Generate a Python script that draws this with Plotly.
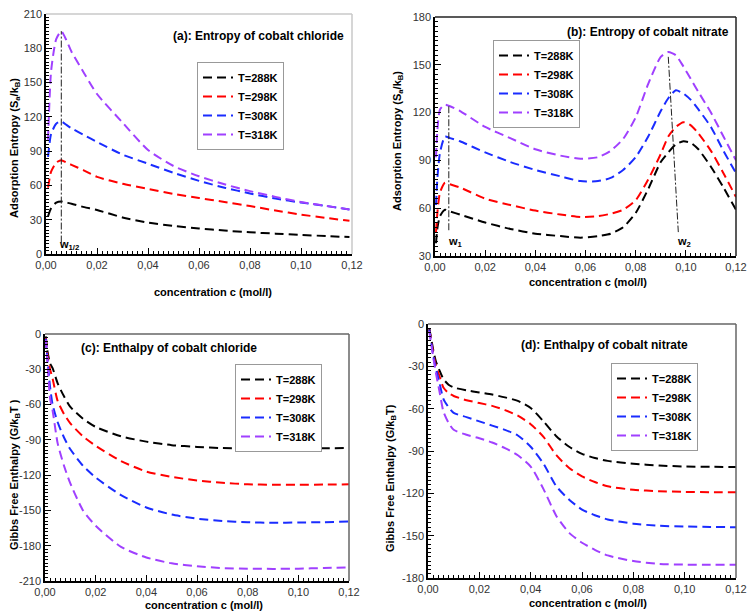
import plotly.graph_objects as go

# The page body adds an 8 px margin, so the figure is sized to fit inside the
# 756x614 window; positions below are given in window pixels.
WIN_W, WIN_H, OFF = 756, 614, 8
W, H = WIN_W - 2 * OFF, WIN_H - OFF


def fx(px):
    return (px - OFF) / W


def fy(py):
    return 1 - (py - OFF) / H


series_names = ["T=288K", "T=298K", "T=308K", "T=318K"]
series_colors = ["#000000", "#ff0000", "#1a2cff", "#a040ff"]

# ---------- (a) Entropy of cobalt chloride ----------
a_x = [0.0008, 0.002, 0.004, 0.006, 0.008, 0.01, 0.015, 0.02, 0.03, 0.04, 0.05,
       0.06, 0.07, 0.08, 0.09, 0.10, 0.11, 0.119]
a_288 = [33, 40, 45, 46, 45, 44, 41, 38.5, 32, 27.5, 24.5, 22.4, 20.5, 19, 17.8, 16.7, 15.7, 14.8]
a_298 = [58, 72, 80, 82, 80, 78, 73, 67.5, 61.5, 57, 52.5, 49, 45.5, 42, 38, 34.5, 31.5, 29]
a_308 = [85, 105, 114, 116, 113, 110, 104, 98, 87, 79, 71, 64, 58, 53, 48.5, 45, 42, 39]
a_318 = [100, 160, 188, 195, 187, 177, 158, 140, 115, 91, 77, 68, 61, 55, 50, 45.5, 42, 39]
a_w_x = [0.006, 0.006]
a_w_y = [10, 195]

# ---------- (b) Entropy of cobalt nitrate ----------
b_x = [0.0004, 0.001, 0.002, 0.004, 0.006, 0.01, 0.02, 0.03, 0.04, 0.05, 0.058,
       0.065, 0.07, 0.075, 0.08, 0.085, 0.09, 0.093, 0.096, 0.099, 0.102, 0.105,
       0.11, 0.115, 0.12]
b_288 = [38, 48, 55, 59, 58, 56, 51, 47, 44, 42.5, 41.5, 42.5, 44, 48, 57, 72, 89, 95,
         100, 102, 101, 97, 86, 73, 59]
b_298 = [45, 58, 70, 76, 75, 73, 66, 62, 58.5, 56, 54.5, 55, 56.5, 59, 65, 78, 94, 105,
         111, 114, 112, 107, 96, 82, 67]
b_308 = [62, 80, 95, 105, 104, 102, 95, 89, 84, 80, 77, 77, 79, 84, 92, 105, 121, 129,
         134, 132, 128, 122, 111, 96, 82]
b_318 = [92, 110, 122, 125, 124, 121, 111, 104, 97, 93, 91, 92, 96, 103.5, 117, 138, 155,
         158, 156, 149, 141, 133, 120, 105, 90]
b_w1_x = [0.0055, 0.0055]
b_w1_y = [124, 45]
b_w2_x = [0.093, 0.097]
b_w2_y = [155, 45]

# ---------- (c) Enthalpy of cobalt chloride ----------
c_x = [0.0003, 0.001, 0.002, 0.003, 0.005, 0.0075, 0.01, 0.015, 0.02, 0.03, 0.04,
       0.05, 0.06, 0.07, 0.08, 0.09, 0.10, 0.11, 0.12]
c_288 = [-2, -15, -25, -29, -42, -53, -62, -72, -79, -87, -91.5, -94.5, -96, -97,
         -97.3, -97.3, -97.2, -97.1, -97]
c_298 = [-3, -18, -30, -38, -57, -68, -76, -87, -95, -108, -117, -121.5, -124.5,
         -126.5, -127.8, -128.2, -128.2, -128, -127.8]
c_308 = [-4, -22, -45, -60, -75, -88, -98, -112, -122, -137, -147.5, -153.5, -157,
         -159, -160, -160.5, -160.3, -160, -159.5]
c_318 = [-5, -25, -55, -65, -93, -112, -127, -150, -163, -181, -190, -195, -197.5,
         -199, -199.5, -199.7, -199.5, -199, -198.5]

# ---------- (d) Enthalpy of cobalt nitrate ----------
d_x = [0.0005, 0.001, 0.002, 0.003, 0.0045, 0.006, 0.008, 0.01, 0.015, 0.02, 0.025,
       0.03, 0.035, 0.04, 0.045, 0.05, 0.055, 0.06, 0.065, 0.07, 0.08, 0.09, 0.10,
       0.11, 0.12]
d_288 = [-3, -8, -18, -26, -33, -39, -43, -45, -47, -48.5, -50, -52, -54.5, -59.5,
         -69, -79.5, -87, -92, -95, -97, -99, -100.3, -101, -101.2, -101.3]
d_298 = [-4, -9, -20, -29, -37, -45, -49, -51, -54, -56, -58, -61, -65, -71, -80,
         -93, -102, -108, -112, -115, -117.5, -118.5, -119, -119.2, -119.3]
d_308 = [-4, -10, -22, -31, -42, -53, -59, -63, -66, -69, -72, -75, -79, -87, -99,
         -115, -124.5, -131.5, -135.5, -138.5, -141.5, -143, -143.5, -143.8, -144]
d_318 = [-5, -11, -23, -34, -48, -62, -70, -75, -78.5, -81, -84, -88, -93, -101,
         -117, -136, -148, -155, -160, -164, -168, -170, -170.5, -170.6, -170.6]

# ---------- ticks ----------
x_ticks = [0, 0.02, 0.04, 0.06, 0.08, 0.10, 0.12]
x_tick_labels = ["0,00", "0,02", "0,04", "0,06", "0,08", "0,10", "0,12"]
a_y_ticks = [0, 30, 60, 90, 120, 150, 180, 210]
b_y_ticks = [30, 60, 90, 120, 150, 180]
c_y_ticks = [-210, -180, -150, -120, -90, -60, -30, 0]
d_y_ticks = [-180, -150, -120, -90, -60, -30, 0]

FONT = "Liberation Sans, Arial, sans-serif"
DASH = "9px,5px"

fig = go.Figure()

panels = [
    ("x", "y", "legend", a_x, [a_288, a_298, a_308, a_318]),
    ("x2", "y2", "legend2", b_x, [b_288, b_298, b_308, b_318]),
    ("x3", "y3", "legend3", c_x, [c_288, c_298, c_308, c_318]),
    ("x4", "y4", "legend4", d_x, [d_288, d_298, d_308, d_318]),
]
for xa, ya, lg, xs, ys_list in panels:
    for name, col, ys in zip(series_names, series_colors, ys_list):
        fig.add_trace(go.Scatter(
            x=xs, y=ys, mode="lines", name=name, xaxis=xa, yaxis=ya, legend=lg,
            line=dict(color=col, width=2, dash=DASH, shape="spline", smoothing=0.6),
        ))

# dash-dot guide lines
for xs, ys, xa, ya in [(a_w_x, a_w_y, "x", "y"), (b_w1_x, b_w1_y, "x2", "y2"),
                       (b_w2_x, b_w2_y, "x2", "y2")]:
    fig.add_trace(go.Scatter(x=xs, y=ys, mode="lines", xaxis=xa, yaxis=ya,
                             showlegend=False, hoverinfo="skip",
                             line=dict(color="#222", width=1, dash="7px,2px,2px,2px")))

# plot areas in window pixels: (left, right, top, bottom)
areas = {
    "a": (46, 352, 14, 254),
    "b": (435, 736, 17, 256),
    "c": (45, 349, 334, 581),
    "d": (428, 736, 324, 578),
}
domains = {k: dict(x=[fx(l), fx(r)], y=[fy(b), fy(t)]) for k, (l, r, t, b) in areas.items()}

tickfont = dict(family=FONT, size=11, color="#333")


def xaxis_cfg(dom, anchor):
    return dict(domain=dom, anchor=anchor, range=[0, 0.12], tickvals=x_ticks,
                ticktext=x_tick_labels, ticks="inside", ticklen=6, tickcolor="#000",
                showline=True, linecolor="#000", linewidth=1.5, mirror=False,
                showgrid=False, zeroline=False, tickfont=tickfont,
                ticklabeloverflow="allow", automargin=False,
                minor=dict(ticks="inside", ticklen=3, dtick=0.002, tickcolor="#000",
                           showgrid=False))


def yaxis_cfg(dom, anchor, rng, tv):
    return dict(domain=dom, anchor=anchor, range=rng, tickvals=tv,
                ticktext=[str(v) for v in tv], ticks="inside", ticklen=6,
                tickcolor="#000", showline=True, linecolor="#000", linewidth=1.5,
                mirror=False, showgrid=False, zeroline=False, tickfont=tickfont,
                ticklabeloverflow="allow", automargin=False,
                minor=dict(ticks="inside", ticklen=3, dtick=3, tickcolor="#000",
                           showgrid=False))


legend_common = dict(bgcolor="white", bordercolor="#999", borderwidth=1,
                     font=dict(family=FONT, size=11, color="#000", weight="bold"),
                     itemwidth=30, xanchor="left", yanchor="top",
                     itemclick=False, itemdoubleclick=False)

fig.update_layout(
    width=W, height=H,
    margin=dict(l=0, r=0, t=0, b=0, pad=0, autoexpand=False),
    paper_bgcolor="white", plot_bgcolor="white",
    font=dict(family=FONT, size=11, color="#000"),
    xaxis=xaxis_cfg(domains["a"]["x"], "y"),
    yaxis=yaxis_cfg(domains["a"]["y"], "x", [0, 210], a_y_ticks),
    xaxis2=xaxis_cfg(domains["b"]["x"], "y2"),
    yaxis2=yaxis_cfg(domains["b"]["y"], "x2", [30, 180], b_y_ticks),
    xaxis3=xaxis_cfg(domains["c"]["x"], "y3"),
    yaxis3=yaxis_cfg(domains["c"]["y"], "x3", [-210, 0], c_y_ticks),
    xaxis4=xaxis_cfg(domains["d"]["x"], "y4"),
    yaxis4=yaxis_cfg(domains["d"]["y"], "x4", [-180, 0], d_y_ticks),
    legend=dict(legend_common, x=fx(197), y=fy(62)),
    legend2=dict(legend_common, x=fx(493), y=fy(40)),
    legend3=dict(legend_common, x=fx(235), y=fy(364)),
    legend4=dict(legend_common, x=fx(611), y=fy(363)),
)

# top / right frame lines
frame = [("x", "y", "#c8c8c8"), ("x2", "y2", "#222"), ("x3", "y3", "#666"),
         ("x4", "y4", "#666")]
for xa, ya, col in frame:
    fig.add_shape(type="line", xref=f"{xa} domain", yref=f"{ya} domain",
                  x0=0, x1=1, y0=1, y1=1, line=dict(color=col, width=1.5))
    fig.add_shape(type="line", xref=f"{xa} domain", yref=f"{ya} domain",
                  x0=1, x1=1, y0=0, y1=1, line=dict(color=col, width=1.5))

bold = dict(family=FONT, size=11, color="#000", weight="bold")
title_font = dict(family=FONT, size=12, color="#000", weight="bold")


def ann(text, x, y, font, angle=0, xanchor="center", yanchor="middle", xref="paper",
        yref="paper"):
    fig.add_annotation(text=text, x=x, y=y, xref=xref, yref=yref, showarrow=False,
                       font=font, textangle=angle, xanchor=xanchor, yanchor=yanchor)


# panel titles
ann("(a): Entropy of cobalt chloride", fx(258), fy(36), title_font)
ann("(b): Entropy of cobalt nitrate", fx(648), fy(32), title_font)
ann("(c): Enthalpy of cobalt chloride", fx(169), fy(348), title_font)
ann("(d): Enthalpy of cobalt nitrate", fx(604), fy(345), title_font)

# axis titles
xt = "concentration c (mol/l)"
ann(xt, fx(213), fy(292), bold)
ann(xt, fx(588), fy(282), bold)
ann(xt, fx(204), fy(605), bold)
ann(xt, fx(588), fy(603), bold)
ann("Adsorption Entropy (S<sub>a</sub>/k<sub>B</sub>)", fx(15), fy(148), bold, -90)
ann("Adsorption Entropy (S<sub>a</sub>/k<sub>B</sub>)", fx(398), fy(141), bold, -90)
ann("Gibbs Free Enthalpy (G/k<sub>B</sub>T )", fx(15), fy(475), bold, -90)
ann("Gibbs Free Enthalpy (G/k<sub>B</sub>T)", fx(391), fy(478), bold, -90)

# w labels in data coordinates
ann("w<sub>1/2</sub>", 0.0045, 8, bold, xanchor="left", xref="x", yref="y")
ann("w<sub>1</sub>", 0.0045, 39, bold, xanchor="left", xref="x2", yref="y2")
ann("w<sub>2</sub>", 0.0955, 39, bold, xanchor="left", xref="x2", yref="y2")

fig.write_html("out.html")
